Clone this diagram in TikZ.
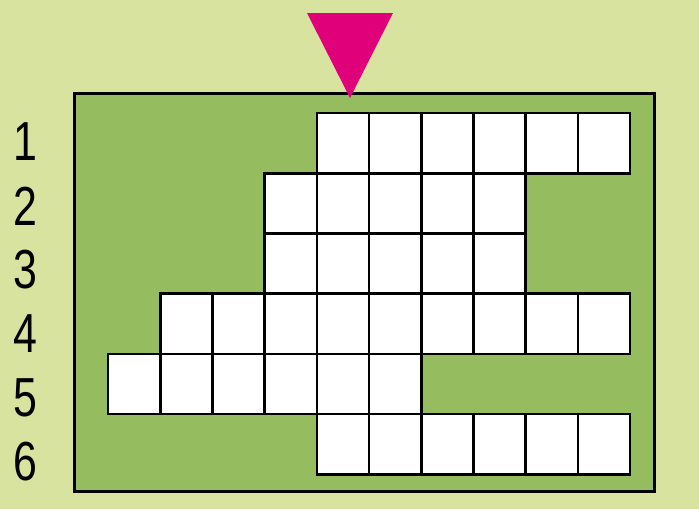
\documentclass[tikz,border=0pt]{standalone}
\usepackage{fontspec}
\usepackage{tikz}
\newfontfamily\rowlabelfont[FakeStretch=0.78]{Liberation Sans}
\definecolor{PuzzleBack}{RGB}{216,227,160}
\definecolor{PuzzleField}{RGB}{149,189,95}
\definecolor{PuzzleMark}{RGB}{224,0,122}

\begin{document}
\begin{tikzpicture}[x=1pt,y=-1pt,
  cell/.style={draw,fill=white,line width=2.6pt,minimum width=52.2pt,minimum height=60.2pt,inner sep=0pt,rectangle},
  rowlbl/.style={font=\rowlabelfont\fontsize{55}{55}\selectfont,inner sep=0pt}]
\fill[PuzzleBack] (0,0) rectangle (699,509);
\useasboundingbox (0,0) rectangle (699,509);
\draw[line width=3pt,fill=PuzzleField] (74.5,93.5) rectangle (654.5,491.5);
% rows of the puzzle: row/first column/last column
\foreach \r/\a/\b in %
{1/4/9,2/3/7,3/3/7,4/1/9,5/0/5,6/4/9} {
   \foreach \c in {\a,...,\b} {
      \node[cell](c\r-\c) at (108+52.2*\c+26.1,113+60.2*\r-30.1) {};
   }
}
\foreach \r/\y in %
{1/142,2/206,3/270,4/334,5/398,6/462} {
   \node[rowlbl](n\r) at (25,\y) {\r};
}
\fill[PuzzleMark] (307,13) -- (393,13) -- (350,98) -- cycle;
\end{tikzpicture}
\end{document}
